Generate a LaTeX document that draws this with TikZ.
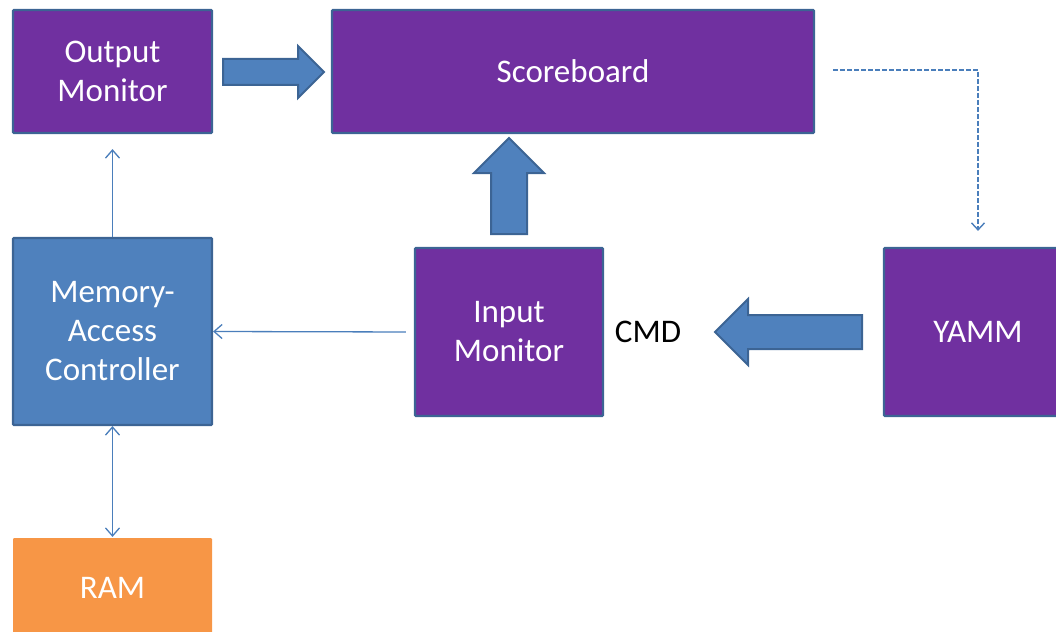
\documentclass[tikz,border=0pt]{standalone}
\usepackage{fontspec}
\setmainfont{Carlito}
\usetikzlibrary{arrows.meta, shapes.arrows, calc}
\definecolor{ovpurple}{HTML}{7030A0}
\definecolor{ovblue}{HTML}{4F81BD}
\definecolor{ovedge}{HTML}{3C6494}
\definecolor{ovorange}{HTML}{F79646}
\definecolor{ovline}{HTML}{4A7EBB}

\begin{document}
\begin{tikzpicture}[x=1pt, y=-1pt,
  box/.style={draw=ovedge, line width=2.2pt, rounded corners=1pt, text=white, align=center, inner sep=0pt, font=\fontsize{33}{39}\selectfont},
  monbox/.style={box, fill=ovpurple},
  ctrlbox/.style={box, fill=ovblue},
  rambox/.style={box, draw=none, fill=ovorange},
  blockarrow/.style={single arrow, draw=ovedge, fill=ovblue, line width=2pt, single arrow tip angle=90, anchor=tail},
  thinarrow/.style={draw=ovline, line width=1.3pt, -{Straight Barb[length=8pt,width=14pt]}},
  twoarrow/.style={thinarrow, {Straight Barb[length=8pt,width=14pt]}-{Straight Barb[length=8pt,width=14pt]}},
  dasharrow/.style={draw=ovline, line width=1.4pt, dash pattern=on 5pt off 2pt, -{Straight Barb[length=7pt,width=13pt]}},
]
  \path[use as bounding box, clip] (0,0) rectangle (1056,631);

  % Boxes
  \node[monbox, minimum width=199pt, minimum height=123pt] (om) at (112.5,71.5) {Output\\Monitor};
  \node[monbox, minimum width=482pt, minimum height=123pt] (sb) at (573,71.5) {Scoreboard};
  \node[ctrlbox, minimum width=199pt, minimum height=187pt] (mac) at (112.5,331.5) {Memory-\\Access\\Controller};
  \node[monbox, minimum width=188pt, minimum height=168pt] (im) at (509,332) {Input\\Monitor};
  \node[monbox, minimum width=188pt, minimum height=168pt] (yamm) at (978,332) {YAMM};
  \node[rambox, minimum width=199pt, minimum height=100pt] (ram) at (112.5,588) {RAM};
  \node[font=\fontsize{33}{39}\selectfont] (cmd) at (648,332) {CMD};

  % Block arrows (placed at their tails)
  \node[blockarrow, inner sep=12pt, minimum height=101pt, single arrow head extend=13pt] (oarr) at (222,72) {};
  \node[blockarrow, inner sep=17pt, minimum height=96pt, single arrow head extend=17pt, shape border rotate=90] (iarr) at (509,235) {};
  \node[blockarrow, inner sep=16pt, minimum height=147pt, single arrow head extend=16pt, shape border rotate=180] (carr) at (863,332) {};

  % Thin connectors
  \draw[thinarrow, shorten >=15pt] (mac.north) -- (om.south);
  \draw[thinarrow, shorten <=8pt] (im.west) -- (mac.east);
  \draw[twoarrow] (mac.south) -- (ram.north);

  \coordinate (dstart) at (833,70);
  \draw[dasharrow, shorten >=16pt] (dstart) -| (yamm.north);
\end{tikzpicture}
\end{document}
